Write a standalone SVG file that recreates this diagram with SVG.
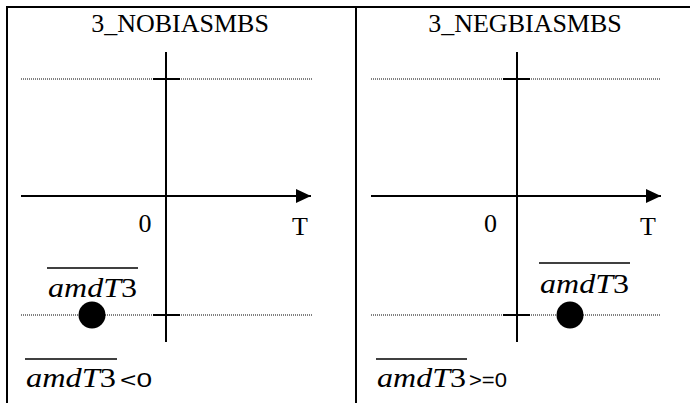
<svg xmlns="http://www.w3.org/2000/svg" width="690" height="403" viewBox="0 0 690 403">
  <style>
    .frame { stroke: #000; stroke-width: 2; fill: none; }
    .axis { stroke: #000; stroke-width: 2; fill: none; }
    .dot { stroke: #000; stroke-width: 1; stroke-dasharray: 1 1; fill: none; }
    .bar { stroke: #000; stroke-width: 1.3; }
    .serif { font-family: "Liberation Serif", "Times New Roman", serif; fill: #000; }
    .math { font-family: "Liberation Serif", "Times New Roman", serif; font-style: italic; fill: #000; }
    .sans { font-family: "Liberation Sans", Arial, sans-serif; fill: #000; }
  </style>
  <defs>
    <marker id="arrow" markerWidth="16" markerHeight="14" refX="15" refY="7" orient="auto" markerUnits="userSpaceOnUse">
      <path d="M0,0 L15,7 L0,14 Z" fill="#000"/>
    </marker>
  </defs>
  <rect width="690" height="403" fill="#fff"/>
  <g id="frame">
    <line class="frame" x1="7" y1="7" x2="690" y2="7"/>
    <line class="frame" x1="7" y1="6" x2="7" y2="403"/>
    <line class="frame" x1="356" y1="7" x2="356" y2="403"/>
  </g>

  <g id="panel-left">
    <text class="serif" x="180" y="32" font-size="26" text-anchor="middle">3_NOBIASMBS</text>
    <text class="serif" x="145" y="232" font-size="26" text-anchor="middle">0</text>
    <text class="serif" x="300" y="235" font-size="26" text-anchor="middle">T</text>
    <g id="point-left">
      <circle cx="92" cy="315" r="13.5" fill="#000"/>
      <line class="bar" x1="47" y1="268" x2="138" y2="268"/>
      <text class="math" x="48" y="297" font-size="27" textLength="89" lengthAdjust="spacingAndGlyphs">amdT<tspan font-style="normal">3</tspan></text>
    </g>
    <g id="cond-left">
      <line class="bar" x1="25" y1="359" x2="117" y2="359"/>
      <text class="math" x="26" y="387" font-size="27" textLength="90" lengthAdjust="spacingAndGlyphs">amdT<tspan font-style="normal">3</tspan></text>
      <text class="sans" x="120" y="387" font-size="20" textLength="32" lengthAdjust="spacingAndGlyphs">&lt;0</text>
    </g>
  </g>

  <g id="panel-right">
    <text class="serif" x="525" y="32" font-size="26" text-anchor="middle">3_NEGBIASMBS</text>
    <text class="serif" x="490.5" y="232" font-size="26" text-anchor="middle">0</text>
    <text class="serif" x="648" y="235" font-size="26" text-anchor="middle">T</text>
    <g id="point-right">
      <circle cx="570" cy="315" r="13.5" fill="#000"/>
      <line class="bar" x1="539" y1="263" x2="630" y2="263"/>
      <text class="math" x="540" y="293" font-size="27" textLength="89" lengthAdjust="spacingAndGlyphs">amdT<tspan font-style="normal">3</tspan></text>
    </g>
    <g id="cond-right">
      <line class="bar" x1="376" y1="359" x2="467" y2="359"/>
      <text class="math" x="377" y="387" font-size="27" textLength="89" lengthAdjust="spacingAndGlyphs">amdT<tspan font-style="normal">3</tspan></text>
      <text class="sans" x="469" y="387" font-size="20" textLength="38" lengthAdjust="spacingAndGlyphs">&gt;=0</text>
    </g>
  </g>

  <g id="connectors">
    <line class="dot" x1="21" y1="79" x2="312" y2="79"/>
    <line class="dot" x1="21" y1="315" x2="312" y2="315"/>
    <line class="axis" x1="166" y1="52" x2="166" y2="342"/>
    <line class="axis" x1="153" y1="79" x2="180" y2="79"/>
    <line class="axis" x1="153" y1="315" x2="180" y2="315"/>
    <line class="axis" x1="21" y1="196" x2="311" y2="196" marker-end="url(#arrow)"/>

    <line class="dot" x1="371" y1="79" x2="661" y2="79"/>
    <line class="dot" x1="371" y1="315" x2="661" y2="315"/>
    <line class="axis" x1="517" y1="52" x2="517" y2="342"/>
    <line class="axis" x1="503" y1="79" x2="530" y2="79"/>
    <line class="axis" x1="503" y1="315" x2="530" y2="315"/>
    <line class="axis" x1="371" y1="196" x2="661" y2="196" marker-end="url(#arrow)"/>
  </g>
</svg>
